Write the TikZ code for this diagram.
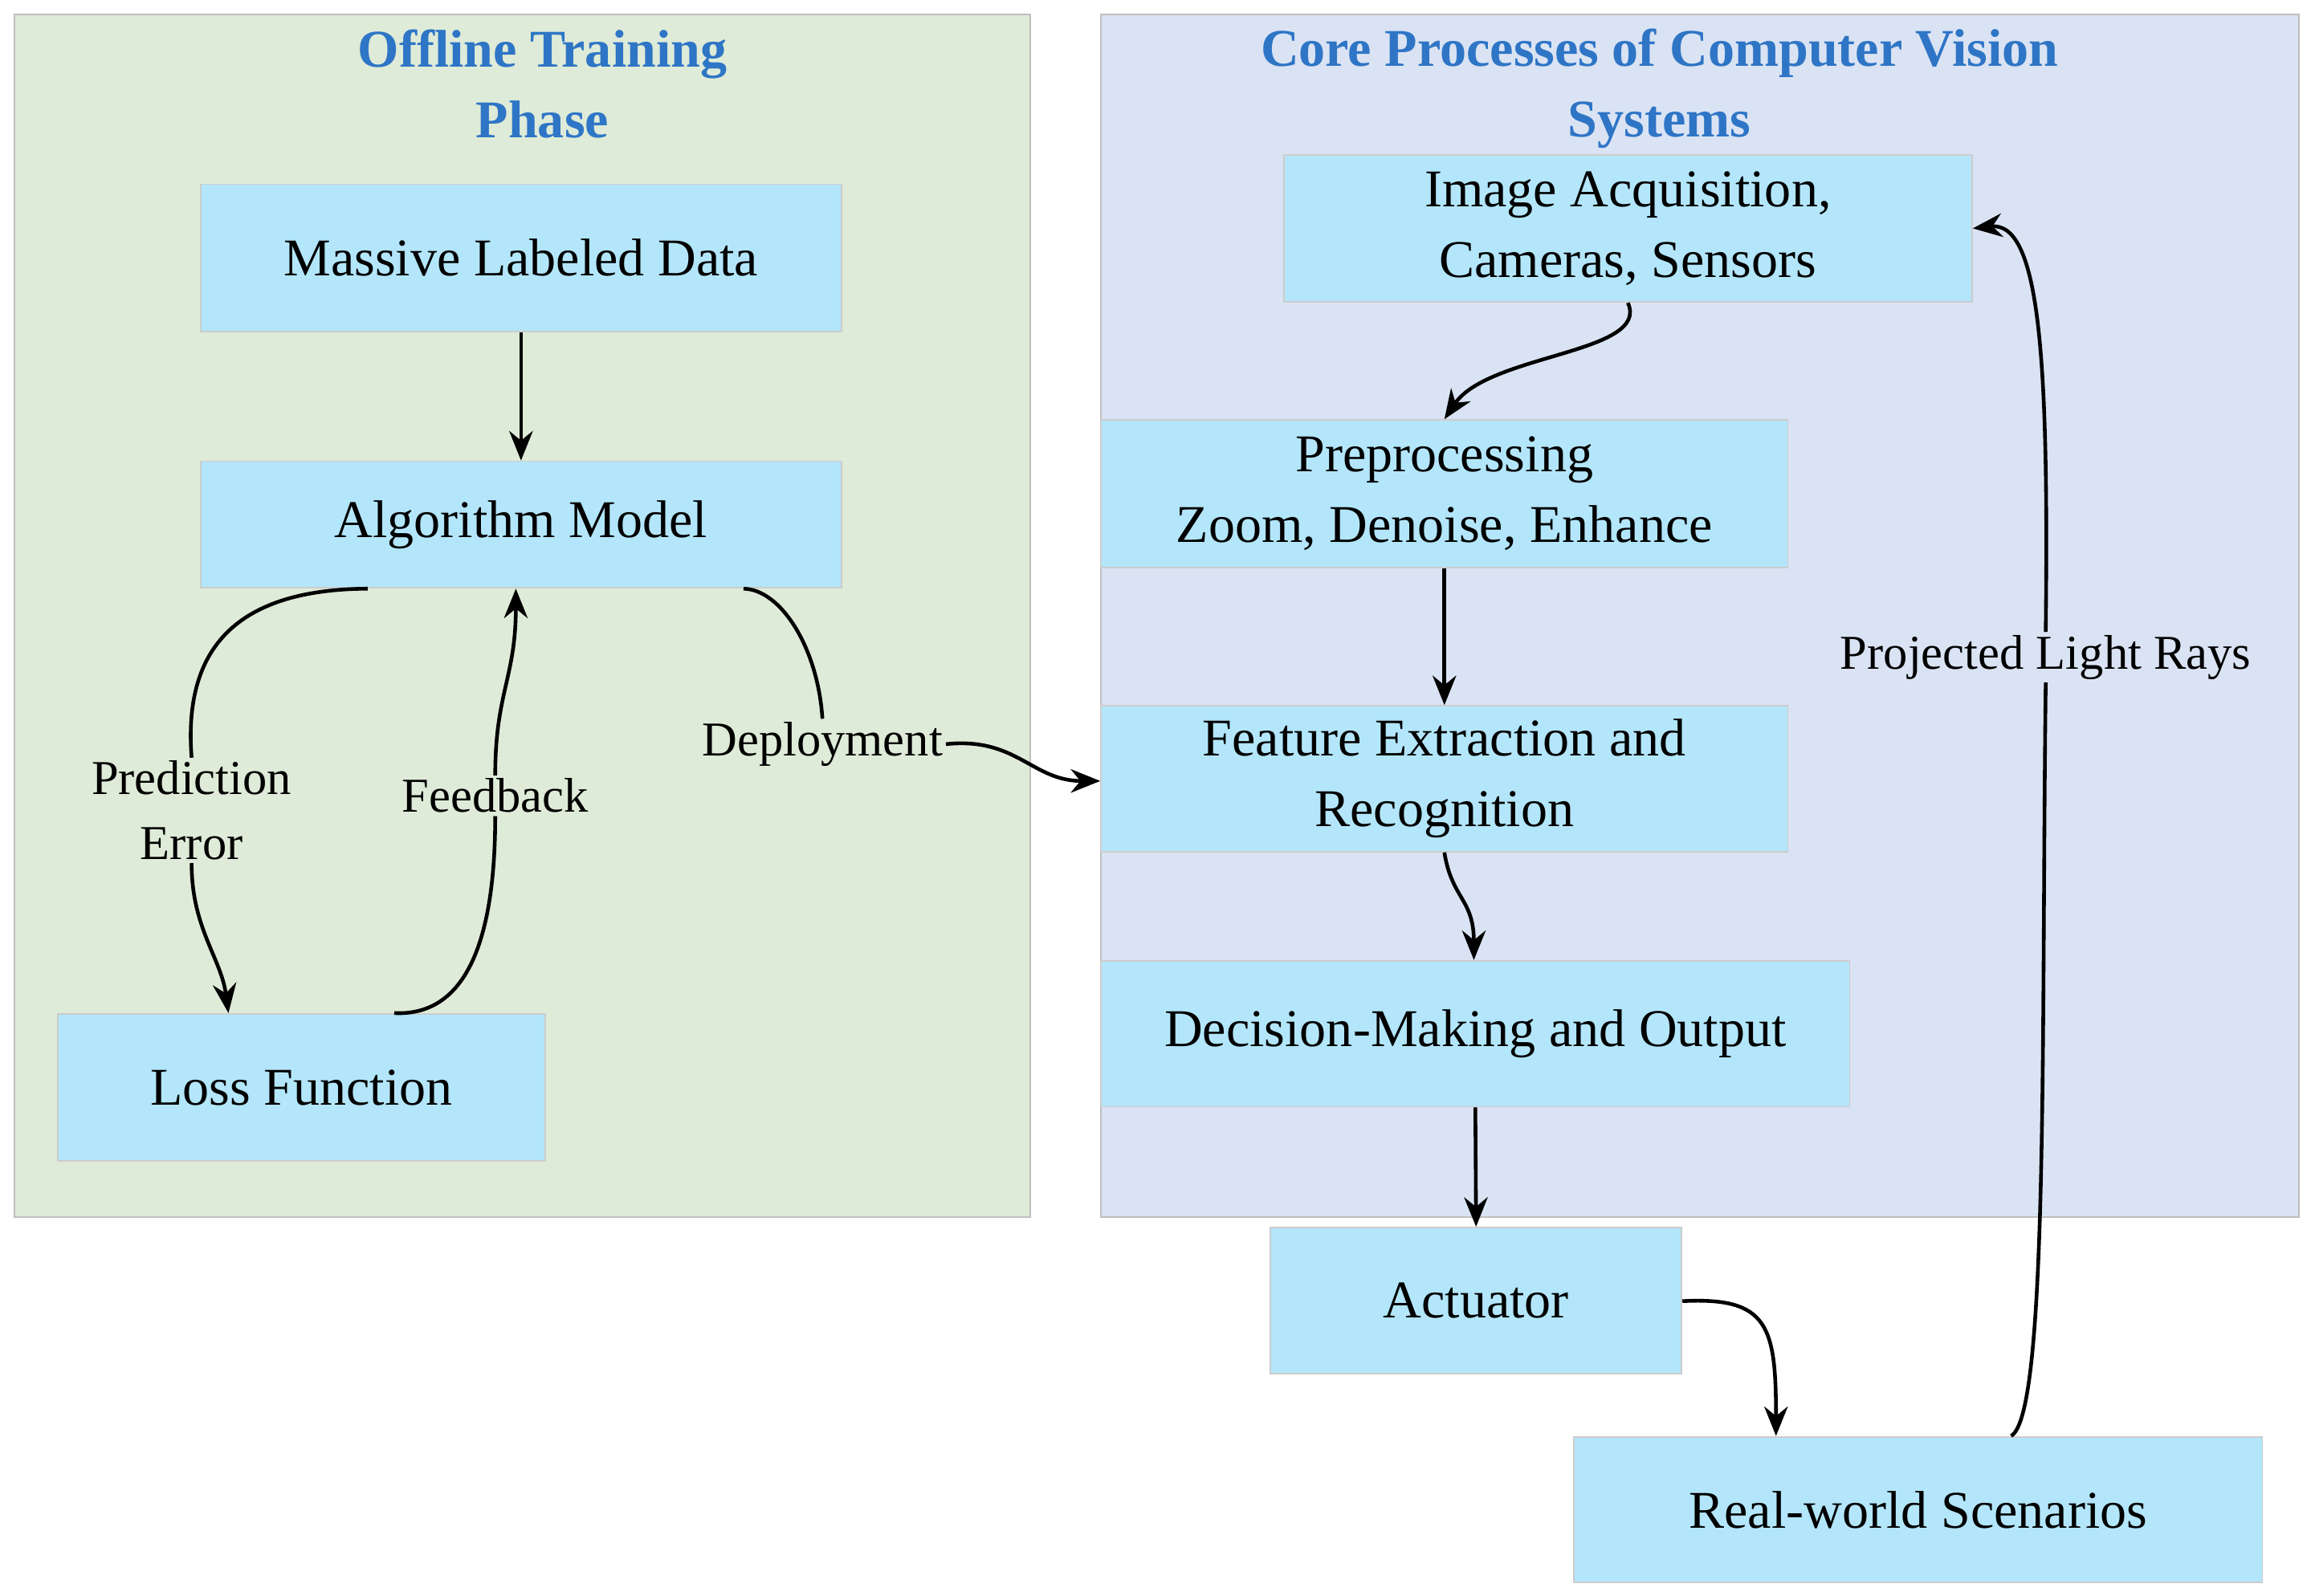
\documentclass[tikz,border=0pt]{standalone}
\usepackage{fontspec}
\setmainfont{Liberation Serif}
\usetikzlibrary{arrows.meta}
\begin{document}
\begin{tikzpicture}[x=1pt,y=-1pt,
  box/.style={draw=black!20,line width=1pt,fill=cyan!30,inner sep=0pt,align=center,font=\fontsize{36}{48}\selectfont},
  lbl/.style={align=center,inner sep=2pt,font=\fontsize{33}{44}\selectfont},
  ttl/.style={align=center,text=blue!55!cyan!80!black,font=\bfseries\fontsize{36}{48}\selectfont},
  arr/.style={line width=2.5pt,-{Stealth[length=20pt,width=16pt]}},
  ln/.style={line width=2.5pt}]
\useasboundingbox (0,0) rectangle (1568,1083);
\definecolor{gpan}{HTML}{DEEBD8}\definecolor{bpan}{HTML}{DAE3F3}\definecolor{tb}{HTML}{2E75C6}
\filldraw[fill=gpan,draw=black!25,line width=1pt] (10,10) rectangle (699,826);
\filldraw[fill=bpan,draw=black!25,line width=1pt] (747,10) rectangle (1560,826);
\node[ttl,text=tb] (t1) at (368,57) {Offline Training\\Phase};
\node[ttl,text=tb] (t2) at (1126,60) {Core Processes of Computer Vision\\Systems};
\node[box,minimum width=435pt,minimum height=100pt] (mass) at (353.5,175) {Massive Labeled Data};
\node[box,minimum width=435pt,minimum height=86pt] (alg) at (353.5,356) {Algorithm Model};
\node[box,minimum width=331pt,minimum height=100pt] (loss) at (204.5,738) {Loss Function};
\node[box,minimum width=467pt,minimum height=100pt] (img) at (1104.5,155) {Image Acquisition,\\Cameras, Sensors};
\node[box,minimum width=466pt,minimum height=100pt] (pre) at (980,335) {Preprocessing\\Zoom, Denoise, Enhance};
\node[box,minimum width=466pt,minimum height=99pt] (feat) at (980,528.5) {Feature Extraction and\\Recognition};
\node[box,minimum width=508pt,minimum height=99pt] (dec) at (1001,701.5) {Decision-Making and Output};
\node[box,minimum width=279pt,minimum height=99pt] (act) at (1001.5,882.5) {Actuator};
\node[box,minimum width=467pt,minimum height=99pt] (real) at (1301.5,1024.5) {Real-world Scenarios};
\node[lbl] (pe) at (130,550) {Prediction\\Error};
\node[lbl] (fb) at (336,540) {Feedback};
\node[lbl] (dep) at (558,505) {Deployment};
\node[lbl] (plr) at (1388,446) {Projected Light Rays};
\draw[arr] (mass) -- (alg);
\draw[ln] (alg.south west)++(114,0) coordinate (a1) .. controls (150,400) and (125,450) .. (pe.north);
\draw[arr] (pe.south) .. controls (130,630) and (150,650) .. (loss.north west -| 155,0);
\draw[ln] (loss.north west)++(229,0) coordinate (l1) .. controls (320,690) and (336,630) .. (fb.south);
\draw[arr] (fb.north) .. controls (336,470) and (350,460) .. (alg.south west -| 350,0);
\draw[ln] (alg.south west)++(369,0) coordinate (a2) .. controls (530,400) and (555,440) .. (dep.north);
\draw[arr] (dep.east) .. controls (690,500) and (700,530) .. (feat.west |- 0,530);
\draw[arr] (img.south west)++(234,0) coordinate (i1) .. controls (1120,240) and (1010,240) .. (pre.north);
\draw[arr] (pre) -- (feat);
\draw[arr] (feat.south) .. controls (985,610) and (1000,610) .. (dec.north west -| 1000,0);
\draw[arr] (dec.south) -- (act.north);
\draw[arr] (act.east |- 0,883) .. controls (1200,880) and (1205,900) .. (real.north west -| 1205,0);
\draw[ln] (real.north west)++(297,0) coordinate (r1) .. controls (1390,960) and (1385,700) .. (plr.south);
\draw[arr] (plr.north) .. controls (1390,250) and (1385,150) .. (img.east |- 0,155);
\end{tikzpicture}
\end{document}
